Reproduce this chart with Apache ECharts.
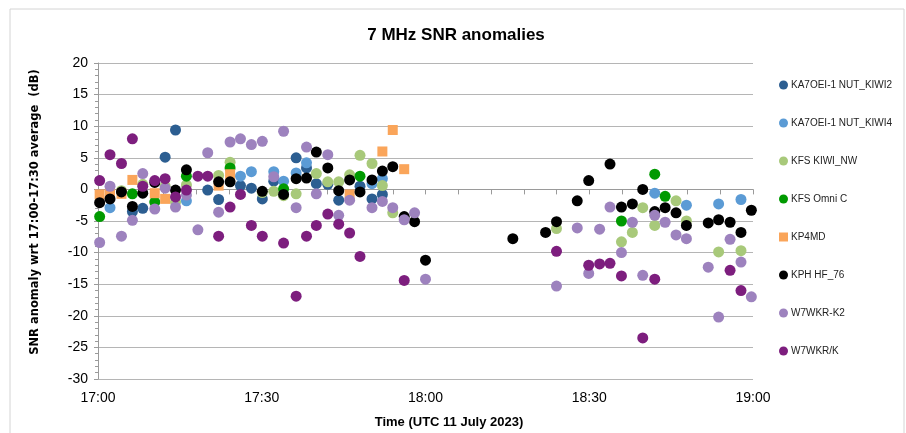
<!DOCTYPE html>
<html>
<head>
    <meta charset="UTF-8">
    <title>7 MHz SNR anomalies</title>
    <script src="https://cdn.jsdelivr.net/npm/echarts@6/dist/echarts.min.js"></script>
    <style>
        html, body {margin: 0; padding: 0; background: #fff;}
        #chart {width: 906px; height: 433px;}
    </style>
</head>
<body>
<div id="chart"></div>
<script type="text/javascript">
    // minutes after 17:00 UTC, SNR anomaly (dB)
    var xLabels = ['17:00', '17:30', '18:00', '18:30', '19:00'];

    var kiwi2 = [[6.3, -3.5], [8.2, -3.0], [12.3, 5.1], [14.2, 9.4], [20.1, -0.1], [22.1, -1.6], [26.1, 0.6], [28.1, 0.2],
        [30.1, -1.5], [32.2, 1.3], [36.3, 5.0], [38.2, 3.4], [40.0, 0.9], [42.1, 0.8], [44.1, -1.7], [48.0, 0.5],
        [50.2, -1.5], [52.1, -0.8]];

    var kiwi4 = [[2.2, -2.9], [16.2, -1.8], [26.1, 2.1], [28.1, 2.8], [32.2, 2.8], [34.0, 1.3], [36.3, 2.6], [38.2, 4.2],
        [50.2, 0.9], [52.1, 1.7], [102.0, -0.6], [107.8, -2.5], [113.7, -2.3], [117.8, -1.6]];

    var kiwiNw = [[4.3, -0.2], [8.2, 0.8], [12.3, 0.5], [14.2, -2.0], [16.2, 0.7], [22.1, 2.2], [24.2, 4.3], [30.1, -0.5],
        [32.2, -0.3], [34.0, -1.0], [36.3, -0.7], [40.0, 2.5], [42.1, 1.2], [44.1, 1.2], [46.1, 2.3], [48.0, 5.4],
        [50.2, 4.1], [52.1, 0.6], [54.0, -3.7], [84.0, -6.2], [95.9, -8.3], [97.9, -6.8], [99.8, -2.9], [102.0, -5.7],
        [105.9, -1.8], [107.8, -5.0], [113.7, -9.9], [117.8, -9.7]];

    var omniC = [[0.3, -4.3], [6.3, -0.7], [10.4, -2.0], [16.2, 2.1], [24.2, 3.4], [34.0, 0.1], [48.0, 2.1],
        [95.9, -5.0], [102.0, 2.4], [103.9, -1.1]];

    var kp4md = [[0.3, -0.8], [2.2, -0.6], [4.3, -0.7], [6.3, 1.5], [10.4, -0.6], [12.3, -1.5], [22.1, 0.6], [24.2, 2.4],
        [46.1, -0.8], [52.1, 6.0], [54.0, 9.4], [56.1, 3.2]];

    var kph = [[0.3, -2.1], [2.2, -1.5], [4.3, -0.4], [6.3, -2.7], [8.2, -0.6], [10.4, 1.1], [14.2, -0.1], [16.2, 3.1],
        [22.1, 1.2], [24.2, 1.2], [30.1, -0.3], [34.0, -0.8], [36.3, 1.7], [38.2, 1.8], [40.0, 5.9], [42.1, 3.4],
        [44.1, -0.2], [46.1, 1.5], [48.0, -0.4], [50.2, 1.5], [52.1, 2.9], [54.0, 3.6], [56.1, -4.3], [58.0, -5.1],
        [60.0, -11.2], [76.0, -7.8], [82.0, -6.8], [84.0, -5.1], [87.8, -1.8], [89.9, 1.4], [93.8, 4.0], [95.9, -2.8],
        [97.9, -2.3], [99.8, 0.0], [102.0, -3.5], [103.9, -2.9], [105.9, -3.7], [107.8, -5.7], [111.8, -5.3],
        [113.7, -4.8], [115.8, -5.2], [117.8, -6.8], [119.7, -3.3]];

    var wkrK2 = [[0.3, -8.4], [2.2, 0.5], [4.3, -7.4], [6.3, -4.9], [8.2, 2.5], [10.4, -3.1], [12.3, 0.2], [14.2, -2.8],
        [16.2, -0.9], [18.3, -6.4], [20.1, 5.8], [22.1, -3.6], [24.2, 7.5], [26.1, 8.0], [28.1, 7.1], [30.1, 7.6],
        [32.2, 2.0], [34.0, 9.2], [36.3, -2.9], [38.2, 6.7], [40.0, -0.7], [42.1, 5.5], [44.1, -4.1], [46.1, -1.7],
        [50.2, -2.9], [52.1, -1.9], [54.0, -2.9], [56.1, -4.8], [58.0, -3.7], [60.0, -14.2], [84.0, -15.3],
        [87.8, -6.1], [89.9, -13.3], [91.9, -6.3], [93.8, -2.8], [95.9, -10.0], [97.9, -5.2], [99.8, -13.6],
        [102.0, -4.1], [103.9, -5.2], [105.9, -7.2], [107.8, -7.8], [111.8, -12.3], [113.7, -20.2], [115.8, -7.9],
        [117.8, -11.5], [119.7, -17.0]];

    var wkrK = [[0.3, 1.4], [2.2, 5.5], [4.3, 4.1], [6.3, 8.0], [8.2, 0.5], [10.4, 1.4], [12.3, 1.7], [14.2, -1.2],
        [16.2, -0.1], [18.3, 2.1], [20.1, 2.1], [22.1, -7.4], [24.2, -2.8], [26.1, -0.8], [28.1, -5.7], [30.1, -7.4],
        [34.0, -8.5], [36.3, -16.9], [38.2, -7.4], [40.0, -5.7], [42.1, -3.9], [44.1, -5.5], [46.1, -6.9],
        [48.0, -10.6], [56.1, -14.4], [84.0, -9.8], [89.9, -12.0], [91.9, -11.8], [93.8, -11.7], [95.9, -13.7],
        [99.8, -23.5], [102.0, -14.2], [115.8, -12.8], [117.8, -16.0]];

    var seriesNames = ['KA7OEI-1 NUT_KIWI2', 'KA7OEI-1 NUT_KIWI4', 'KFS KIWI_NW', 'KFS Omni C', 'KP4MD', 'KPH HF_76', 'W7WKR-K2', 'W7WKR/K'];
    var seriesData = [kiwi2, kiwi4, kiwiNw, omniC, kp4md, kph, wkrK2, wkrK];
    var colors = ['#2C5E91', '#5B9BD5', '#A8C97A', '#009A00', '#FAA55A', '#000000', '#9D82BE', '#7D1E7E'];

    var series = [];
    for (var i = 0; i < seriesNames.length; i++) {
        var square = seriesNames[i] === 'KP4MD';
        series.push({
            name: seriesNames[i],
            type: 'scatter',
            data: seriesData[i],
            symbol: square ? 'rect' : 'circle',
            symbolSize: square ? 10 : 11,
            itemStyle: {color: colors[i], opacity: 1},
            z: 2 + i
        });
    }

    var myChart = echarts.init(document.getElementById('chart'));
    var option = {
        animation: false,
        backgroundColor: '#ffffff',
        color: colors,
        textStyle: {fontFamily: 'Liberation Sans, Arial, sans-serif'},
        graphic: [
            {
                type: 'rect', shape: {x: 10, y: 9, width: 894, height: 440},
                style: {fill: 'none', stroke: '#D4D4D4', lineWidth: 1}, silent: true, z: -1
            },
            {
                type: 'text', x: 456, y: 35,
                style: {text: '7 MHz SNR anomalies', font: 'bold 17px "Liberation Sans", Arial, sans-serif', fill: '#000', textAlign: 'center', textVerticalAlign: 'middle'}
            },
            {
                type: 'text', x: 35, y: 212, rotation: Math.PI / 2,
                style: {text: 'SNR anomaly wrt 17:00-17:30 average  (dB)', font: 'bold 11.5px "DejaVu Sans", sans-serif', fill: '#000', textAlign: 'center', textVerticalAlign: 'middle'}
            },
            {
                type: 'text', x: 449, y: 422,
                style: {text: 'Time (UTC 11 July 2023)', font: 'bold 13px "Liberation Sans", Arial, sans-serif', fill: '#000', textAlign: 'center', textVerticalAlign: 'middle'}
            }
        ],
        legend: {
            orient: 'vertical',
            left: 774,
            top: 74,
            itemWidth: 9,
            itemHeight: 9,
            itemGap: 26,
            textStyle: {fontSize: 10, lineHeight: 12, color: '#222', padding: [0, 0, 0, -2]},
            data: seriesNames
        },
        grid: {left: 98, right: 153, top: 63, bottom: 54},
        xAxis: {
            type: 'value',
            min: 0,
            max: 120,
            interval: 30,
            axisLine: {show: true, lineStyle: {color: '#9A9A9A', width: 1}},
            axisTick: {show: true, length: 5, lineStyle: {color: '#9A9A9A'}},
            minorTick: {show: true, splitNumber: 5, length: 5, lineStyle: {color: '#9A9A9A'}},
            splitLine: {show: false},
            axisLabel: {
                margin: 12, fontSize: 14, color: '#000',
                formatter: function (v) { return xLabels[Math.round(v / 30)]; }
            }
        },
        yAxis: {
            type: 'value',
            min: -30,
            max: 20,
            interval: 5,
            axisLine: {show: true, lineStyle: {color: '#9A9A9A', width: 1}},
            axisTick: {show: true, length: 4, lineStyle: {color: '#9A9A9A'}},
            minorTick: {show: true, splitNumber: 5, length: 3, lineStyle: {color: '#9A9A9A'}},
            splitLine: {show: true, lineStyle: {color: '#B5B5B5', width: 1.2}},
            axisLabel: {margin: 10, fontSize: 14, color: '#000'}
        },
        series: series
    };
    myChart.setOption(option);
</script>
</body>
</html>
